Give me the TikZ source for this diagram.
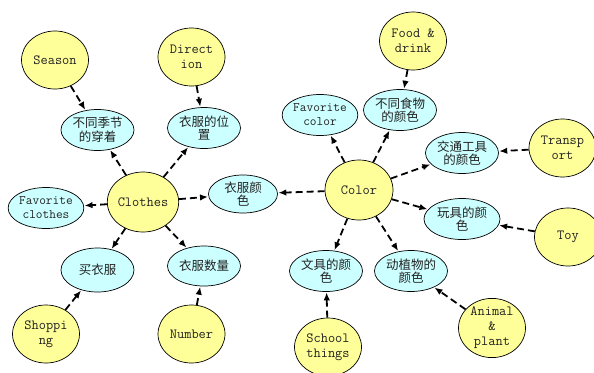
\documentclass[tikz,border=0pt]{standalone}
\usepackage{fontspec}
\newfontfamily\cjk{Noto Sans CJK SC}
\usetikzlibrary{shapes.geometric,arrows.meta}
\definecolor{topicfill}{HTML}{FFFF99}
\definecolor{leaffill}{HTML}{CCFFFF}
\definecolor{inkgray}{HTML}{222222}
\tikzset{
  topic/.style={ellipse,draw=black,line width=0.7pt,fill=topicfill,
    minimum width=67pt,minimum height=58pt,inner sep=0pt,align=center,
    text=inkgray,font=\ttfamily\fontsize{14}{15}\selectfont},
  hub/.style={topic,minimum width=68pt,minimum height=60pt},
  leaf/.style={ellipse,draw=black,line width=0.7pt,fill=leaffill,
    minimum width=73pt,minimum height=41pt,inner sep=0pt,align=center,
    text=inkgray,font=\cjk\fontsize{12.5}{13.5}\selectfont},
  leaftt/.style={leaf,font=\ttfamily\fontsize{13}{14}\selectfont},
  link/.style={dashed,dash pattern=on 7pt off 4pt,line width=1.8pt,
    -{Latex[length=8pt,width=6.5pt]},shorten >=0.5pt}
}
\begin{document}
\begin{tikzpicture}[x=1pt,y=-1pt]
\useasboundingbox (0,0) rectangle (594,372);
% topic circles
\node[topic] (season) at (55,60) {Season};
\node[topic] (direction) at (191.5,57) {Direct\\ion};
\node[topic] (food) at (413,41) {Food \&\\drink};
\node[topic] (transport) at (562.5,148) {Transp\\ort};
\node[hub] (clothes) at (143,202) {Clothes};
\node[hub] (color) at (359,190) {Color};
\node[topic] (shopping) at (46,334) {Shoppi\\ng};
\node[topic] (number) at (191.5,334) {Number};
\node[topic] (school) at (328,347) {School\\things};
\node[topic] (animal) at (492,328) {Animal\\\&\\plant};
\node[topic] (toy) at (568,237) {Toy};
% leaf ellipses
\node[leaf] (wear) at (97.5,130) {不同季节\\的穿着};
\node[leaf] (place) at (204,128) {衣服的位\\置};
\node[leaftt,minimum width=64pt] (favcolor) at (320,115) {Favorite\\color};
\node[leaf] (foodcol) at (400,110) {不同食物\\的颜色};
\node[leaf] (trancol) at (462,153) {交通工具\\的颜色};
\node[leaf,minimum width=69pt,minimum height=38pt] (clothcol) at (243,194) {衣服颜\\色};
\node[leaftt,minimum width=74pt] (favcloth) at (46,208) {Favorite\\clothes};
\node[leaf,minimum height=44pt] (buy) at (97.5,270) {买衣服};
\node[leaf,minimum height=40pt] (amount) at (204,266) {衣服数量};
\node[leaf,minimum width=76pt] (toycol) at (462,219) {玩具的颜\\色};
\node[leaf] (statcol) at (326,271) {文具的颜\\色};
\node[leaf] (natcol) at (411,271) {动植物的\\颜色};
% connectors
\draw[link] (season) -- (wear);
\draw[link] (direction) -- (place);
\draw[link] (clothes) -- (wear);
\draw[link] (clothes) -- (place);
\draw[link] (clothes) -- (favcloth);
\draw[link] (clothes) -- (buy);
\draw[link] (clothes) -- (amount);
\draw[link] (clothes) -- (clothcol);
\draw[link] (shopping) -- (buy);
\draw[link] (number) -- (amount);
\draw[link] (color) -- (clothcol);
\draw[link] (color) -- (favcolor);
\draw[link] (color) -- (foodcol);
\draw[link] (color) -- (trancol);
\draw[link] (color) -- (toycol);
\draw[link] (color) -- (statcol);
\draw[link] (color) -- (natcol);
\draw[link] (food) -- (foodcol);
\draw[link] (transport) -- (trancol);
\draw[link] (toy) -- (toycol);
\draw[link] (school) -- (statcol);
\draw[link] (animal) -- (natcol);
\end{tikzpicture}
\end{document}
